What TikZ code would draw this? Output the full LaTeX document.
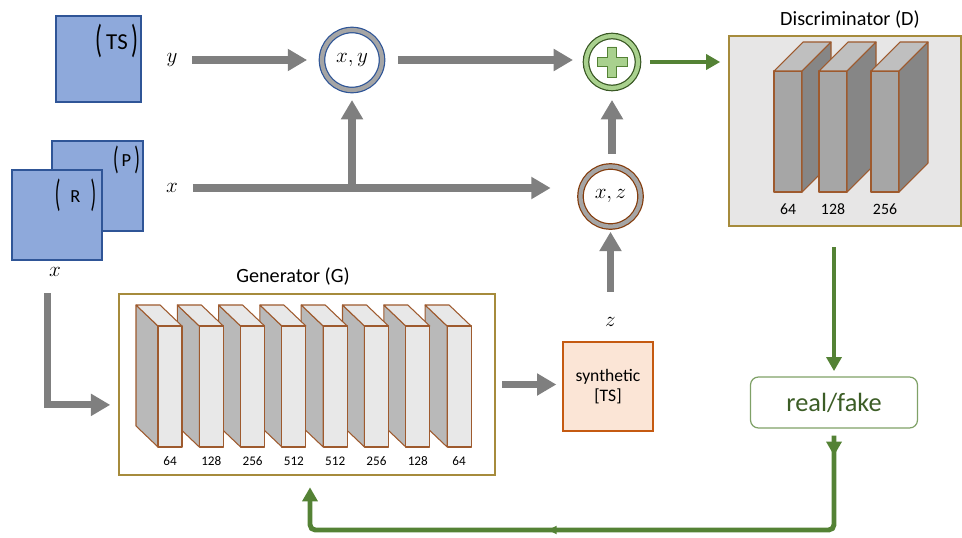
\documentclass[tikz,border=0pt]{standalone}
\usepackage{fontspec}
\setmainfont{Carlito}
\usepackage{amsmath}
\usepackage{graphicx}
\usetikzlibrary{calc}
\usetikzlibrary{positioning}
\usetikzlibrary{arrows.meta}
\usetikzlibrary{decorations.markings}
\definecolor{boxblue}{HTML}{8EA9DB}
\definecolor{boxblueline}{HTML}{2F5597}
\definecolor{arrowgray}{HTML}{7F7F7F}
\definecolor{bandgray}{HTML}{A5A5A5}
\definecolor{gangreen}{HTML}{548235}
\definecolor{darkgreen}{HTML}{385723}
\definecolor{lightgreen}{HTML}{A9D18E}
\definecolor{rimbrown}{HTML}{843C0C}
\definecolor{slabbrown}{HTML}{9E5A2E}
\definecolor{frameGold}{HTML}{A68B3C}
\definecolor{discbg}{HTML}{E7E6E6}
\definecolor{synthfill}{HTML}{FBE5D6}
\definecolor{synthline}{HTML}{C55A11}
\tikzstyle{inbox} = [draw=boxblueline, fill=boxblue, line width=0.8pt]
\tikzstyle{brk} = [font=\fontsize{10.5}{12}\selectfont, inner sep=0pt]
\tikzstyle{mathlab} = [font=\fontsize{12}{14}\selectfont]
\tikzstyle{ring} = [circle, fill=white, line width=0.7pt, double distance=2.4pt, outer sep=0pt, font=\fontsize{12}{14}\selectfont]
\tikzstyle{grayarrow} = [draw=arrowgray, line width=4pt, -{Triangle[length=11pt,width=12pt]}]
\tikzstyle{greenarrow} = [draw=gangreen, line width=2.6pt, -{Triangle[length=8pt,width=8.5pt]}]
\tikzstyle{frame} = [draw=frameGold, line width=0.7pt, outer sep=0pt]
\tikzstyle{slabline} = [draw=slabbrown, line width=0.6pt, line join=round]
\tikzstyle{title} = [font=\fontsize{11.5}{13}\selectfont]
% tall thin brackets: #1 = stretch, #2 = lift, #3 = text
\newcommand\tallpar[3]{\raisebox{#2}{\scalebox{1}[#1]{(}}#3\raisebox{#2}{\scalebox{1}[#1]{)}}}
% generator slab, #1 = left edge of front face
\newcommand\genslab[1]{
    \draw[slabline, fill=gray!55!white] (#1-22,305) -- (#1,326) -- (#1,447) -- (#1-22,426) -- cycle;
    \draw[slabline, fill=gray!18!white] (#1-22,305) -- (#1+2,305) -- (#1+24,326) -- (#1,326) -- cycle;
    \draw[slabline, fill=gray!18!white] (#1,326) rectangle (#1+24,447);
}
% discriminator slab, #1 = left edge of front face
\newcommand\discslab[1]{
    \draw[slabline, fill=gray!70!white] (#1,71) rectangle (#1+28,192);
    \draw[slabline, fill=gray!50!white] (#1,71) -- (#1+29,42) -- (#1+57,42) -- (#1+28,71) -- cycle;
    \draw[slabline, fill=gray!95!white] (#1+28,71) -- (#1+57,42) -- (#1+57,163) -- (#1+28,192) -- cycle;
}

\begin{document}
\begin{tikzpicture}[x=0.02cm, y=-0.02cm]
\useasboundingbox (0,0) rectangle (962,537);

% inputs
\node[inbox, minimum width=1.7cm, minimum height=1.72cm] (ts) at (98.5,59) {};
\node[brk, font=\fontsize{13}{15}\selectfont] (tsname) at (117,41) {\tallpar{1.7}{-0.14em}{\,TS\,}};
\node[inbox, minimum width=1.82cm, minimum height=1.8cm] (p) at (97.5,186) {};
\node[brk] (pname) at (126.5,160) {\tallpar{1.75}{-0.16em}{\,P\,}};
\node[inbox, minimum width=1.8cm, minimum height=1.8cm] (r) at (57,215) {};
\node[brk] (rname) at (75.5,195.5) {\tallpar{2.05}{-0.24em}{\hspace{0.55em}R\hspace{0.55em}}};

\node[mathlab] (ylab) at (172,60) {$y$};
\node[mathlab] (xlab) at (172,188) {$x$};
\node[mathlab] (xlab2) at (55,272) {$x$};
\node[mathlab] (zlab) at (610.5,322) {$z$};

% rings
\node[ring, draw=boxblueline, double=bandgray, minimum size=1.2cm] (xy) at (352,60) {$x,y$};
\node[ring, draw=rimbrown, double=bandgray, minimum size=1.2cm] (xz) at (610.5,196.5) {$x,z$};
\node[ring, draw=darkgreen, double=lightgreen, minimum size=1.04cm] (plus) at (612,62) {};
\draw[draw=gangreen, fill=lightgreen, line width=0.5pt] ($(plus)+(-4.5,-15)$) -- ++(9,0) -- ++(0,10.5) -- ++(10.5,0) -- ++(0,9) -- ++(-10.5,0) -- ++(0,10.5) -- ++(-9,0) -- ++(0,-10.5) -- ++(-10.5,0) -- ++(0,-9) -- ++(10.5,0) -- cycle;

% discriminator
\node[frame, fill=discbg, minimum width=4.64cm, minimum height=3.8cm] (disc) at (845,131) {};
\node[title] (disctitle) at (850,20) {Discriminator (D)};
\foreach \fx/\n in {774/64, 819/128, 871/256}{
    \discslab{\fx}
    \node[font=\fontsize{9}{10}\selectfont] (dlab\n) at (\fx+14,209) {\n};
}

% generator
\node[frame, fill=white, minimum width=7.52cm, minimum height=3.62cm] (gen) at (307,384.5) {};
\node[title] (gentitle) at (293,277) {Generator (G)};
\foreach \i/\n in {7/64, 6/128, 5/256, 4/512, 3/512, 2/256, 1/128, 0/64}{
    \genslab{158+41.3*\i}
    \node[font=\fontsize{7.5}{9}\selectfont] (glab\i) at (170+41.3*\i,461) {\n};
}

% outputs
\node[draw=synthline, fill=synthfill, line width=1.6pt, minimum width=1.8cm, minimum height=1.78cm, align=center, font=\fontsize{10}{11.5}\selectfont] (synth) at (608,386.5) {synthetic\\{[TS]}};
\node[draw=gangreen!75!white, rounded corners=4.5pt, line width=0.7pt, minimum width=3.34cm, minimum height=1.02cm, text=darkgreen!85!gangreen, font=\fontsize{15}{17}\selectfont] (rf) at (834,402.5) {real/fake};

% gray connectors
\draw[grayarrow, shorten <=5pt, shorten >=8.5pt] (ylab) -- (xy);
\draw[grayarrow, shorten <=5pt, shorten >=17pt] (xlab) -- (xlab -| xz.west);
\coordinate (branch) at (xlab -| xy);
\draw[grayarrow, shorten >=5.7pt] (branch) -- (xy.south);
\draw[grayarrow, shorten <=9pt, shorten >=7.4pt] (xy.east) -- (xy.east -| plus.west);
\draw[grayarrow, shorten <=7.4pt, shorten >=6.8pt] (plus.south |- xz.north) -- (plus.south);
\draw[grayarrow, shorten <=11pt, shorten >=3pt] (zlab) -- (xz.south);
\draw[grayarrow, shorten <=4pt, shorten >=3pt] (gen.east) -- (gen.east -| synth.west);
\draw[grayarrow, shorten >=5pt] ([xshift=-4pt, yshift=-6pt]xlab2.south) |- ([yshift=-11.6pt]gen.west);

% green connectors
\draw[greenarrow, shorten <=6.8pt, shorten >=5pt] (plus.east) -- (plus.east -| disc.west);
\draw[greenarrow, shorten <=12pt, shorten >=3pt] (rf.north |- disc.south) -- (rf.north);
\coordinate (fbr) at (834,530);
\coordinate (fbl) at (310,530);
\draw[greenarrow, line width=2.8pt, rounded corners=3pt, shorten <=4pt, shorten >=7pt,
    postaction={decorate}, decoration={markings,
        mark=at position 0.04 with {\arrow{Triangle[length=8pt,width=8.5pt]}},
        mark=at position 0.57 with {\arrow{Triangle[length=5pt,width=4.5pt]}}}]
    (rf.south) -- (fbr) -- (fbl) -- (fbl |- gen.south);
\end{tikzpicture}
\end{document}
